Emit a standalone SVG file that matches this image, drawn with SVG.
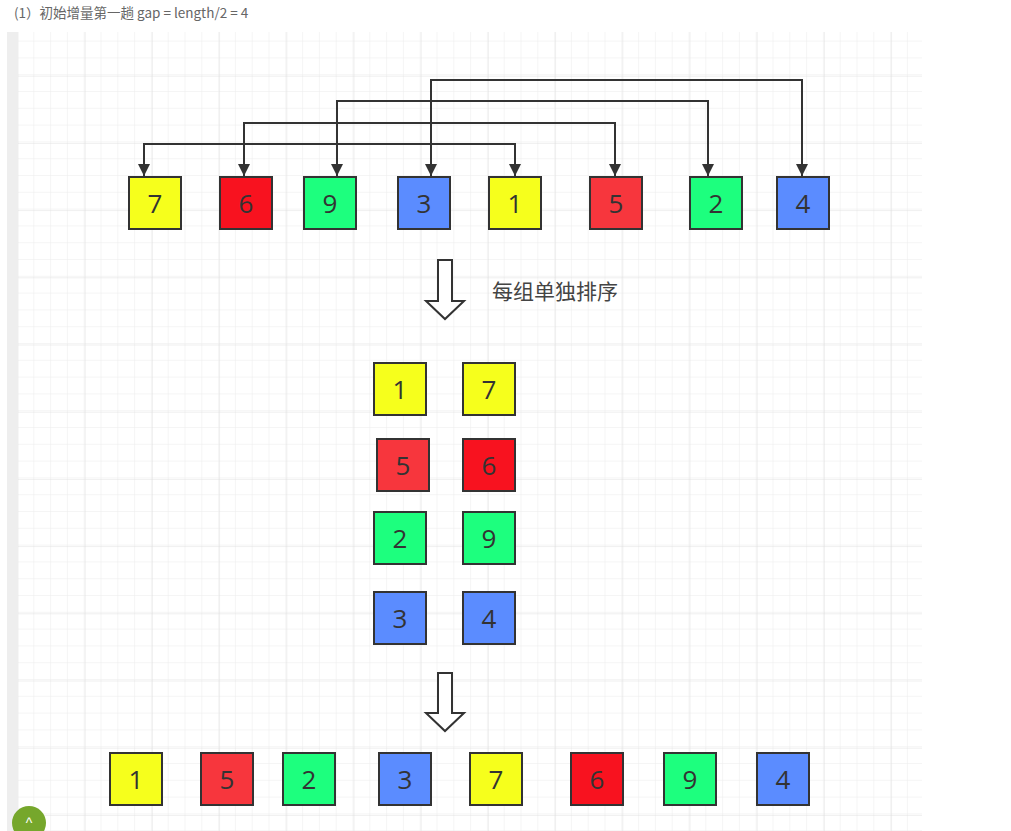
<svg xmlns="http://www.w3.org/2000/svg" width="1011" height="831" viewBox="0 0 1011 831">
<defs>
<pattern id="minor" x="17.5" y="8" width="16.8" height="16.8" patternUnits="userSpaceOnUse">
<path d="M16.8 0V16.8M0 16.8H16.8" fill="none" stroke="#ebebeb" stroke-width="1"/>
</pattern>
<pattern id="major" x="17.5" y="8.5" width="67.2" height="67.2" patternUnits="userSpaceOnUse">
<path d="M0 0V67.2M0 0H67.2" fill="none" stroke="#e0e0e0" stroke-width="1"/>
</pattern>
<marker id="ah" viewBox="0 0 10 10" refX="10" refY="5" markerWidth="6" markerHeight="6" orient="auto-start-reverse" markerUnits="strokeWidth">
<path d="M0 0L10 5L0 10z" fill="#333"/>
</marker>
</defs>
<style>
.b{stroke:#333;stroke-width:2}
.t{font-family:"Open Sans","Noto Sans",sans-serif;font-size:26px;fill:#333;text-anchor:middle;dominant-baseline:central}
.y{fill:#f6ff1c}.r{fill:#f8121f}.r2{fill:#f7363d}.g{fill:#1dff7e}.bl{fill:#5b8cff}
.c{fill:none;stroke:#333;stroke-width:2}
.da{fill:#fff;stroke:#333;stroke-width:2}
</style>
<rect width="1011" height="831" fill="#fff"/>
<text x="14" y="12" font-family="'Noto Sans CJK SC',sans-serif" font-size="13.5" fill="#666" dominant-baseline="central">(1）初始增量第一趟 gap = length/2 = 4</text>
<rect x="17" y="32" width="905" height="799" fill="url(#minor)"/>
<rect x="17" y="32" width="905" height="799" fill="url(#major)"/>
<rect x="7" y="32" width="11" height="799" fill="#eeeeee"/>
<g id="connectors">
<path class="c" d="M431 176V80H802V176" marker-start="url(#ah)" marker-end="url(#ah)"/>
<path class="c" d="M337 176V101H708V176" marker-start="url(#ah)" marker-end="url(#ah)"/>
<path class="c" d="M615 176V123H244V176" marker-start="url(#ah)" marker-end="url(#ah)"/>
<path class="c" d="M515 176V144H144V176" marker-start="url(#ah)" marker-end="url(#ah)"/>
</g>
<g id="row1">
<g id="n7a"><rect class="b y" x="129" y="177" width="52" height="52"/><text class="t" x="155" y="203">7</text></g>
<g id="n6a"><rect class="b r" x="220" y="177" width="52" height="52"/><text class="t" x="246" y="203">6</text></g>
<g id="n9a"><rect class="b g" x="304" y="177" width="52" height="52"/><text class="t" x="330" y="203">9</text></g>
<g id="n3a"><rect class="b bl" x="398" y="177" width="52" height="52"/><text class="t" x="424" y="203">3</text></g>
<g id="n1a"><rect class="b y" x="489" y="177" width="52" height="52"/><text class="t" x="515" y="203">1</text></g>
<g id="n5a"><rect class="b r2" x="590" y="177" width="52" height="52"/><text class="t" x="616" y="203">5</text></g>
<g id="n2a"><rect class="b g" x="690" y="177" width="52" height="52"/><text class="t" x="716" y="203">2</text></g>
<g id="n4a"><rect class="b bl" x="777" y="177" width="52" height="52"/><text class="t" x="803" y="203">4</text></g>
</g>
<g id="arrow1"><path class="da" d="M438 260H452V301H464L445 319L426 301H438Z"/></g>
<text x="492" y="290" font-family="'Noto Sans CJK SC',sans-serif" font-size="21" fill="#444" dominant-baseline="central">每组单独排序</text>
<g id="groups">
<g id="m1"><rect class="b y" x="374" y="363" width="52" height="52"/><text class="t" x="400" y="389">1</text></g>
<g id="m7"><rect class="b y" x="463" y="363" width="52" height="52"/><text class="t" x="489" y="389">7</text></g>
<g id="m5"><rect class="b r2" x="377" y="439" width="52" height="52"/><text class="t" x="403" y="465">5</text></g>
<g id="m6"><rect class="b r" x="463" y="439" width="52" height="52"/><text class="t" x="489" y="465">6</text></g>
<g id="m2"><rect class="b g" x="374" y="512" width="52" height="52"/><text class="t" x="400" y="538">2</text></g>
<g id="m9"><rect class="b g" x="463" y="512" width="52" height="52"/><text class="t" x="489" y="538">9</text></g>
<g id="m3"><rect class="b bl" x="374" y="592" width="52" height="52"/><text class="t" x="400" y="618">3</text></g>
<g id="m4"><rect class="b bl" x="463" y="592" width="52" height="52"/><text class="t" x="489" y="618">4</text></g>
</g>
<g id="arrow2"><path class="da" d="M438 673H452V713H464L445 731L426 713H438Z"/></g>
<g id="row3">
<g id="b1"><rect class="b y" x="110" y="753" width="52" height="52"/><text class="t" x="136" y="779">1</text></g>
<g id="b5"><rect class="b r2" x="201" y="753" width="52" height="52"/><text class="t" x="227" y="779">5</text></g>
<g id="b2"><rect class="b g" x="283" y="753" width="52" height="52"/><text class="t" x="309" y="779">2</text></g>
<g id="b3"><rect class="b bl" x="379" y="753" width="52" height="52"/><text class="t" x="405" y="779">3</text></g>
<g id="b7"><rect class="b y" x="470" y="753" width="52" height="52"/><text class="t" x="496" y="779">7</text></g>
<g id="b6"><rect class="b r" x="571" y="753" width="52" height="52"/><text class="t" x="597" y="779">6</text></g>
<g id="b9"><rect class="b g" x="664" y="753" width="52" height="52"/><text class="t" x="690" y="779">9</text></g>
<g id="b4"><rect class="b bl" x="757" y="753" width="52" height="52"/><text class="t" x="783" y="779">4</text></g>
</g>
<circle cx="29" cy="823" r="17" fill="#76a72c"/>
<text x="29" y="823" font-family="'Liberation Sans',sans-serif" font-size="14" fill="#fff" text-anchor="middle" dominant-baseline="central">^</text>
</svg>
